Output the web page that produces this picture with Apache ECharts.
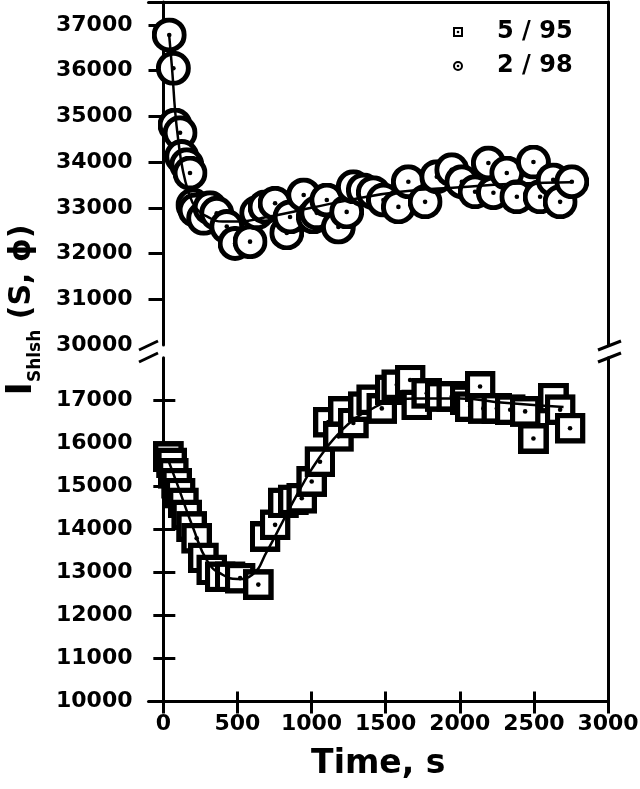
<!DOCTYPE html>
<html>
<head>
<meta charset="utf-8">
<script src="https://cdn.jsdelivr.net/npm/echarts@6/dist/echarts.min.js"></script>
<style>
  html, body { margin: 0; padding: 0; background: #fff; }
  #chart { width: 640px; height: 789px; }
</style>
</head>
<body>
<div id="chart"></div>
<script>
// 2 / 98 (circles, upper panel)
const circTime = [40, 68, 79, 113, 124, 158, 180, 200, 214, 272, 315, 360, 428, 484, 585, 630, 686, 754, 833, 855,
  947, 1012, 1035, 1103, 1181, 1237, 1282, 1350, 1417, 1485, 1586, 1653, 1766, 1845, 1946, 2014, 2103, 2193, 2227,
  2317, 2385, 2497, 2542, 2630, 2677, 2756];
const circVal = [36780, 36050, 34810, 34640, 34120, 33940, 33760, 33060, 32950, 32770, 33000, 32880, 32590, 32220,
  32260, 32890, 33020, 33100, 32450, 32800, 33280, 32800, 32890, 33170, 32580, 32910, 33460, 33390, 33330, 33170,
  33020, 33570, 33130, 33680, 33830, 33570, 33350, 33980, 33330, 33760, 33240, 34000, 33240, 33610, 33130, 33570];

// 5 / 95 (squares, lower panel)
const sqTime = [34, 56, 67, 90, 113, 135, 158, 191, 225, 270, 327, 383, 450, 518, 641, 686, 754, 810, 877, 934,
  1001, 1057, 1113, 1181, 1215, 1282, 1350, 1406, 1474, 1530, 1575, 1665, 1710, 1777, 1867, 1946, 2036, 2070, 2137,
  2159, 2250, 2340, 2441, 2497, 2632, 2677, 2744];
const sqVal = [15700, 15550, 15310, 15080, 14850, 14620, 14340, 14070, 13800, 13340, 13060, 12900, 12900, 12870,
  12720, 13840, 14110, 14620, 14690, 14730, 15120, 15580, 16500, 16170, 16750, 16480, 16860, 17020, 16820, 17250,
  17370, 17480, 16900, 17170, 17100, 17100, 17020, 16860, 17330, 16820, 16820, 16790, 16750, 16120, 17060, 16790,
  16360];

// fitted curves
const fitTopTime = [40, 60, 80, 100, 130, 170, 220, 300, 400, 500, 700, 1000, 1300, 1600, 2000, 2400, 2750];
const fitTopVal = [36750, 36000, 35100, 34500, 33850, 33350, 33000, 32800, 32700, 32700, 32800, 33000, 33200, 33350,
  33450, 33530, 33560];
const fitBotTime = [30, 100, 200, 300, 400, 500, 600, 700, 800, 900, 1000, 1100, 1200, 1300, 1400, 1500, 1700, 2000,
  2300, 2700];
const fitBotVal = [15650, 15000, 14050, 13250, 12950, 12850, 12950, 13500, 14150, 14800, 15400, 15900, 16300, 16600,
  16800, 16950, 17050, 17050, 16950, 16850];

const xTicks = [0, 500, 1000, 1500, 2000, 2500, 3000];
const yTopTicks = [30000, 31000, 32000, 33000, 34000, 35000, 36000, 37000];
const yBotTicks = [10000, 11000, 12000, 13000, 14000, 15000, 16000, 17000];

const zip = (a, b) => a.map((v, i) => [v, b[i]]);
const svgUrl = (svg) => 'image://data:image/svg+xml;base64,' + btoa(svg);

const sqSymbol = svgUrl('<svg xmlns="http://www.w3.org/2000/svg" width="31" height="31" viewBox="0 0 31 31">' +
  '<rect x="2.75" y="2.75" width="25.5" height="25.5" fill="#fff" stroke="#000" stroke-width="5.5"/>' +
  '<circle cx="15.5" cy="15.5" r="2.3" fill="#000"/></svg>');
const circSymbol = svgUrl('<svg xmlns="http://www.w3.org/2000/svg" width="35" height="35" viewBox="0 0 35 35">' +
  '<circle cx="17.5" cy="17.5" r="15" fill="#fff" stroke="#000" stroke-width="5"/>' +
  '<circle cx="17.5" cy="17.5" r="2.3" fill="#000"/></svg>');
const sqIcon = svgUrl('<svg xmlns="http://www.w3.org/2000/svg" width="10" height="10" viewBox="0 0 10 10">' +
  '<rect x="1" y="1" width="8" height="8" fill="#fff" stroke="#000" stroke-width="2"/>' +
  '<circle cx="5" cy="5" r="1.3" fill="#000"/></svg>');
const circIcon = svgUrl('<svg xmlns="http://www.w3.org/2000/svg" width="10" height="10" viewBox="0 0 10 10">' +
  '<circle cx="5" cy="5" r="4" fill="#fff" stroke="#000" stroke-width="2"/>' +
  '<circle cx="5" cy="5" r="1.3" fill="#000"/></svg>');

const FONT = 'DejaVu Sans';
const line = { show: true, lineStyle: { color: '#000', width: 3 } };
const noLine = { show: false };
const labelStyle = { color: '#000', fontFamily: FONT, fontWeight: 'bold', fontSize: 22, formatter: (v) => String(v) };

const chart = echarts.init(document.getElementById('chart'));

// 断轴的斜线标记
const breakMarks = [];
[[139, 158], [598, 621]].forEach(([x1, x2]) => {
  [[350, 341], [362, 353]].forEach(([y1, y2]) => {
    breakMarks.push({
      type: 'line', silent: true,
      shape: { x1: x1, y1: y1, x2: x2, y2: y2 },
      style: { stroke: '#000', lineWidth: 3 }
    });
  });
});

const option = {
  backgroundColor: '#fff',
  animation: false,
  grid: [
    { left: 148.5, top: 2, width: 459.5, height: 343, outerBoundsMode: 'none' },
    { left: 148.5, top: 357.7, width: 459.5, height: 343.8, outerBoundsMode: 'none' }
  ],
  legend: {
    orient: 'vertical',
    left: 453,
    top: 20,
    padding: 0,
    itemWidth: 10,
    itemHeight: 10,
    itemGap: 10,
    textStyle: { color: '#000', fontFamily: FONT, fontWeight: 'bold', fontSize: 24, lineHeight: 24, padding: [0, 0, 0, 29] },
    data: [{ name: '5 / 95', icon: sqIcon }, { name: '2 / 98', icon: circIcon }]
  },
  xAxis: [
    {
      gridIndex: 0, type: 'value', position: 'top', min: -100, max: 3000,
      axisLine: line, axisTick: { show: false }, axisLabel: { show: false }, splitLine: { show: false }
    },
    {
      gridIndex: 1, type: 'value', position: 'bottom', min: -100, max: 3000,
      axisLine: line,
      axisTick: { show: true, inside: false, length: 12, customValues: xTicks, lineStyle: { color: '#000', width: 3 } },
      axisLabel: Object.assign({ margin: 12, customValues: xTicks }, labelStyle),
      splitLine: { show: false },
      name: 'Time, s', nameLocation: 'middle', nameGap: 46,
      nameTextStyle: { color: '#000', fontFamily: FONT, fontWeight: 'bold', fontSize: 33 }
    },
    {
      gridIndex: 1, type: 'value', position: 'bottom', min: -100, max: 3000,
      axisLine: noLine,
      axisTick: { show: true, inside: true, length: 10, customValues: xTicks, lineStyle: { color: '#000', width: 3 } },
      axisLabel: { show: false }, splitLine: { show: false }
    }
  ],
  yAxis: [
    {
      gridIndex: 0, type: 'value', position: 'left', min: 30000, max: 37500,
      axisLine: line,
      axisTick: { show: true, inside: false, length: 10, customValues: yTopTicks.slice(1), lineStyle: { color: '#000', width: 3 } },
      axisLabel: Object.assign({ margin: 16, customValues: yTopTicks }, labelStyle),
      splitLine: { show: false }
    },
    {
      gridIndex: 0, type: 'value', position: 'left', min: 30000, max: 37500,
      axisLine: noLine,
      axisTick: { show: true, inside: true, length: 12, customValues: yTopTicks.slice(1), lineStyle: { color: '#000', width: 3 } },
      axisLabel: { show: false }, splitLine: { show: false }
    },
    {
      gridIndex: 0, type: 'value', position: 'right', min: 30000, max: 37500,
      axisLine: line, axisTick: { show: false }, axisLabel: { show: false }, splitLine: { show: false }
    },
    {
      gridIndex: 1, type: 'value', position: 'left', min: 10000, max: 18000,
      axisLine: line,
      axisTick: { show: true, inside: false, length: 10, customValues: yBotTicks, lineStyle: { color: '#000', width: 3 } },
      axisLabel: Object.assign({ margin: 16, customValues: yBotTicks }, labelStyle),
      splitLine: { show: false }
    },
    {
      gridIndex: 1, type: 'value', position: 'left', min: 10000, max: 18000,
      axisLine: noLine,
      axisTick: { show: true, inside: true, length: 12, customValues: yBotTicks.slice(1), lineStyle: { color: '#000', width: 3 } },
      axisLabel: { show: false }, splitLine: { show: false }
    },
    {
      gridIndex: 1, type: 'value', position: 'right', min: 10000, max: 18000,
      axisLine: line, axisTick: { show: false }, axisLabel: { show: false }, splitLine: { show: false }
    }
  ],
  graphic: breakMarks.concat([{
    type: 'text',
    x: 22, y: 310,
    rotation: Math.PI / 2,
    style: {
      text: '{a|I}{b|Shlsh}{c| (S, ϕ)}',
      align: 'center',
      verticalAlign: 'middle',
      fill: '#000',
      rich: {
        a: { fontFamily: FONT, fontWeight: 'bold', fontSize: 36, lineHeight: 44, fill: '#000' },
        b: { fontFamily: FONT, fontWeight: 'bold', fontSize: 17, lineHeight: 17, verticalAlign: 'bottom', fill: '#000' },
        c: { fontFamily: FONT, fontWeight: 'bold', fontSize: 30, lineHeight: 44, fill: '#000' }
      }
    }
  }]),
  series: [
    {
      name: '5 / 95', type: 'scatter', xAxisIndex: 1, yAxisIndex: 3,
      symbol: sqSymbol, symbolSize: 31,
      itemStyle: { opacity: 1 },
      data: zip(sqTime, sqVal)
    },
    {
      name: '2 / 98', type: 'scatter', xAxisIndex: 0, yAxisIndex: 0,
      symbol: circSymbol, symbolSize: 35,
      itemStyle: { opacity: 1 },
      data: zip(circTime, circVal)
    },
    {
      name: 'fit top', type: 'line', xAxisIndex: 0, yAxisIndex: 0, z: 3,
      smooth: true, showSymbol: false, symbol: 'none',
      lineStyle: { color: '#000', width: 2.5 },
      data: zip(fitTopTime, fitTopVal)
    },
    {
      name: 'fit bottom', type: 'line', xAxisIndex: 1, yAxisIndex: 3, z: 3,
      smooth: true, showSymbol: false, symbol: 'none',
      lineStyle: { color: '#000', width: 2.5 },
      data: zip(fitBotTime, fitBotVal)
    }
  ]
};

chart.setOption(option);
</script>
</body>
</html>
